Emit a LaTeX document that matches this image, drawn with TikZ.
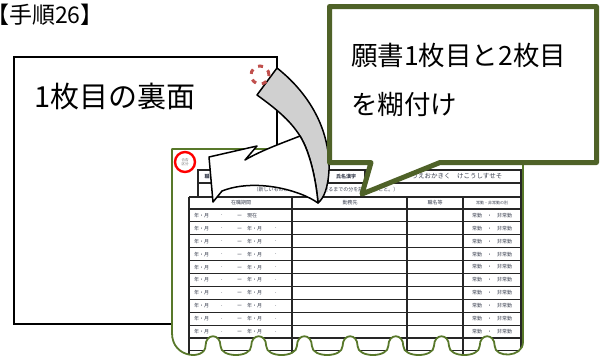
\documentclass[tikz,border=0pt]{standalone}
\usepackage{fontspec}
\setmainfont{Noto Sans CJK JP}
\definecolor{bubbleolive}{HTML}{4F6228}
\definecolor{formgreen}{HTML}{58782A}
\definecolor{curlred}{HTML}{C0504D}
\definecolor{formink}{HTML}{3A4050}
\definecolor{bandgray}{HTML}{D0D0D0}
\newcommand{\formedge}{(523pt,-149pt) -- (172pt,-149pt) -- (172pt,-333pt)
  .. controls (172pt,-359pt) and (205.5pt,-360pt) .. (205.5pt,-346pt)
  \foreach \a/\b/\n in {205.5/220.5/251.2, 251.2/266.2/296.9, 296.9/311.9/342.6,
                        342.6/357.6/388.3, 388.3/403.3/434.0, 434.0/449.0/479.7}
  { .. controls (\a pt,-333pt) and (\b pt,-333pt) .. (\b pt,-346pt)
    .. controls (\b pt,-358pt) and (\n pt,-358pt) .. (\n pt,-346pt) }
  .. controls (479.7pt,-333pt) and (494.7pt,-333pt) .. (494.7pt,-346pt)
  .. controls (494.7pt,-358pt) and (523pt,-358pt) .. (523pt,-342pt) -- cycle}

\begin{document}
\begin{tikzpicture}
[every node/.style={inner sep=0pt},
 tinytext/.style={font=\fontsize{5}{5.5}\selectfont, text=formink},
 gridline/.style={line width=1.1pt, color=black!85}]
\useasboundingbox (0pt,0pt) rectangle (602pt,-360pt);
% title and the back of sheet 1
\node (title) [anchor=west, font=\fontsize{23}{23}\selectfont] at (-14pt, -15pt) {【手順26】};
\draw [line width=1.5pt, color=black] (14pt,-57pt) rectangle (277pt,-324pt);
\node (backtext) [anchor=west, font=\fontsize{29}{29}\selectfont] at (34pt, -97pt) {1枚目の裏面};
% sheet 2 with torn bottom
\fill [white] \formedge;
\begin{scope}
\clip \formedge;
\draw [gridline] (198pt,-170pt) rectangle (521pt,-197pt);
\draw [gridline] (198pt,-183pt) -- (521pt,-183pt);
\draw [gridline] (227pt,-170pt) -- (227pt,-183pt);
\draw [gridline] (293pt,-170pt) -- (293pt,-183pt);
\draw [gridline] (328pt,-170pt) -- (328pt,-183pt);
\draw [gridline] (365pt,-170pt) -- (365pt,-183pt);
\foreach \x in {189,292,407,463,521}
  \draw [gridline] (\x pt,-197pt) -- (\x pt,-362pt);
\foreach \y in {197,209,221.9,234.8,247.7,260.6,273.5,286.4,299.3,312.2,325.1,338,350.9}
  \draw [gridline] (189pt,-\y pt) -- (521pt,-\y pt);
\node (hcareer) [tinytext, font=\bfseries\fontsize{5}{5.5}\selectfont] at (212pt,-176.5pt) {職　歴};
\node (hnote) [tinytext, text=black!35] at (260pt,-176.5pt) {（記入上の注意）};
\node (hnumber) [tinytext, font=\bfseries\fontsize{5}{5.5}\selectfont] at (310pt,-176.5pt) {受験番号};
\node (hname) [tinytext, font=\bfseries\fontsize{5}{5.5}\selectfont] at (346pt,-176.5pt) {氏名漢字};
\node (hkana) [tinytext, font=\fontsize{6.5}{7}\selectfont] at (457pt,-176.5pt) {うえおかきく　けこうしすせそ};
\node (hrule) [tinytext] at (326pt,-190pt) {（新しいものから順に、現在に至るまでの分を記入すること。）};
\node (hperiod) [tinytext] at (241pt,-203pt) {在職期間};
\node (hoffice) [tinytext] at (350pt,-203pt) {勤務先};
\node (hpost) [tinytext] at (435pt,-203pt) {職名等};
\node (hkind) [tinytext, font=\fontsize{4}{4.5}\selectfont] at (492pt,-203pt) {常勤・非常勤の別};
\node (from0) [tinytext, anchor=west] at (194pt,-215.5pt) {年・月};
\node (dot0) [tinytext] at (223pt,-215.5pt) {．};
\node (to0) [tinytext, anchor=west] at (237pt,-215.5pt) {ー　現在};
\node (kind0) [tinytext] at (492pt,-215.5pt) {常勤　・　非常勤};
\foreach \y [count=\r] in {228.4,241.3,254.2,267.1,280,292.9,305.8,318.7,331.6} {
  \node (from\r) [tinytext, anchor=west] at (194pt,-\y pt) {年・月};
  \node (dot\r) [tinytext] at (223pt,-\y pt) {．};
  \node (to\r) [tinytext, anchor=west] at (237pt,-\y pt) {ー　年・月};
  \node (end\r) [tinytext] at (277pt,-\y pt) {．};
  \node (kind\r) [tinytext] at (492pt,-\y pt) {常勤　・　非常勤};
}
\end{scope}
\draw [line width=1.8pt, color=formgreen, line join=round] \formedge;
\node (stamp) [circle, minimum size=20pt, line width=2.4pt, draw=red] at (185pt,-162pt) {};
\node (stamptext) [tinytext, font=\fontsize{3.5}{4}\selectfont, text=black!55, align=center] at (185pt,-162pt) {合否\\区分};
% curled arrow
\draw [line width=1.5pt, color=black, fill=bandgray, line join=round]
  (257pt,-95pt) -- (277pt,-68pt) .. controls (305pt,-90pt) and (330pt,-125pt) .. (329pt,-170pt)
  .. controls (328pt,-188pt) and (324pt,-198pt) .. (318pt,-203pt)
  .. controls (316pt,-180pt) and (310pt,-152pt) .. (300pt,-136pt)
  .. controls (290pt,-120pt) and (275pt,-108pt) .. (257pt,-95pt) -- cycle;
\draw [line width=1.5pt, color=black, fill=white, line join=round]
  (318pt,-203pt) .. controls (300pt,-190pt) and (255pt,-178pt) .. (222pt,-191pt)
  -- (213pt,-202pt) -- (209pt,-157pt) -- (257pt,-146pt) -- (245pt,-160pt)
  .. controls (262pt,-150pt) and (285pt,-142pt) .. (300pt,-136pt)
  .. controls (310pt,-152pt) and (316pt,-180pt) .. (318pt,-203pt) -- cycle;
\draw [line width=3pt, color=curlred, dash pattern=on 5pt off 6pt] (260pt,-75pt) circle (9pt);
% speech bubble
\draw [line width=5pt, color=bubbleolive, fill=white, line join=round]
  (329.5pt,-6.5pt) -- (596.5pt,-6.5pt) -- (596.5pt,-162.5pt) -- (440pt,-162.5pt)
  -- (362pt,-194pt) -- (371pt,-162.5pt) -- (329.5pt,-162.5pt) -- cycle;
\node (line1) [anchor=west, font=\fontsize{26.5}{26.5}\selectfont] at (351pt, -55pt) {願書1枚目と2枚目};
\node (line2) [anchor=west, font=\fontsize{26.5}{26.5}\selectfont] at (351pt, -105pt) {を糊付け};
\end{tikzpicture}
\end{document}
